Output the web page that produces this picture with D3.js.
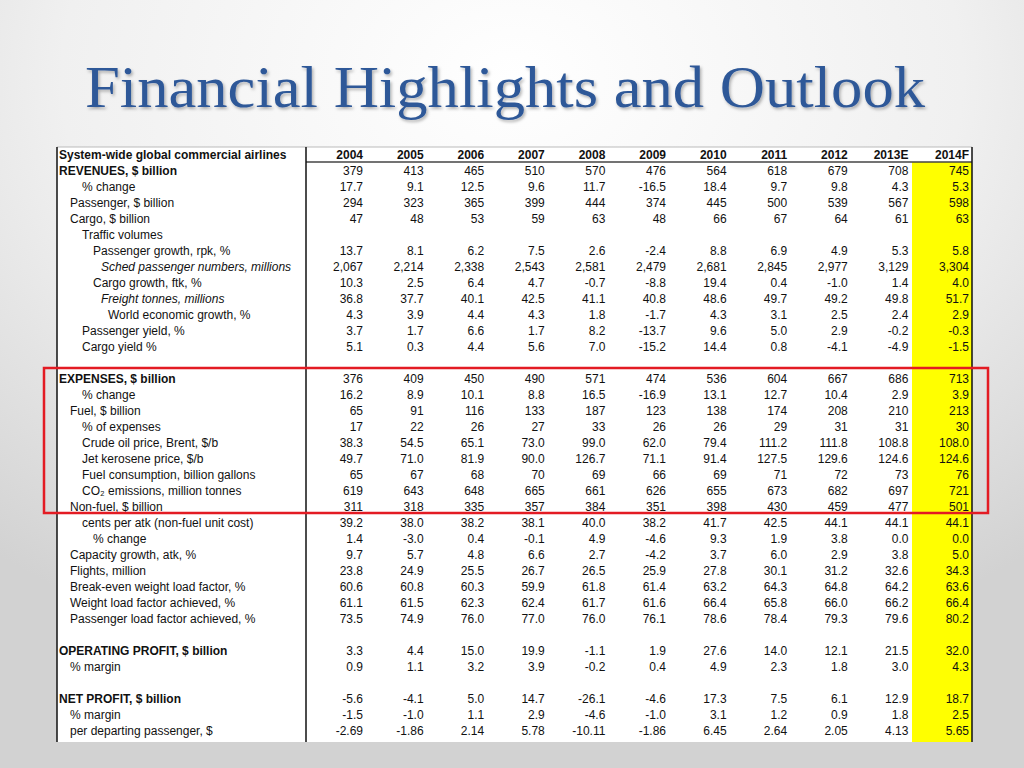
<!DOCTYPE html>
<html>
<head>
<meta charset="utf-8">
<script src="https://cdn.jsdelivr.net/npm/d3@7"></script>
<style>
  body { margin: 0; background: #ddd; }
  svg { display: block; }
</style>
</head>
<body>
<div id="my_viz"></div>
<script>
const years = ['2004', '2005', '2006', '2007', '2008', '2009', '2010', '2011', '2012', '2013E', '2014F'];

const labels = [
    'System-wide global commercial airlines',
    'REVENUES, $ billion', '% change', 'Passenger, $ billion', 'Cargo, $ billion', 'Traffic volumes',
    'Passenger growth, rpk, %', 'Sched passenger numbers, millions', 'Cargo growth, ftk, %',
    'Freight tonnes, millions', 'World economic growth, %', 'Passenger yield, %', 'Cargo yield %',
    '',
    'EXPENSES, $ billion', '% change', 'Fuel, $ billion', '% of expenses', 'Crude oil price, Brent, $/b',
    'Jet kerosene price, $/b', 'Fuel consumption, billion gallons', 'CO\u2082 emissions, million tonnes',
    'Non-fuel, $ billion', 'cents per atk (non-fuel unit cost)', '% change', 'Capacity growth, atk, %',
    'Flights, million', 'Break-even weight load factor, %', 'Weight load factor achieved, %',
    'Passenger load factor achieved, %',
    '',
    'OPERATING PROFIT, $ billion', '% margin',
    '',
    'NET PROFIT, $ billion', '% margin', 'per departing passenger, $'
];

// values per row (null = no numbers on that row)
const values = [
    null,
    [379, 413, 465, 510, 570, 476, 564, 618, 679, 708, 745],
    [17.7, 9.1, 12.5, 9.6, 11.7, -16.5, 18.4, 9.7, 9.8, 4.3, 5.3],
    [294, 323, 365, 399, 444, 374, 445, 500, 539, 567, 598],
    [47, 48, 53, 59, 63, 48, 66, 67, 64, 61, 63],
    null,
    [13.7, 8.1, 6.2, 7.5, 2.6, -2.4, 8.8, 6.9, 4.9, 5.3, 5.8],
    [2067, 2214, 2338, 2543, 2581, 2479, 2681, 2845, 2977, 3129, 3304],
    [10.3, 2.5, 6.4, 4.7, -0.7, -8.8, 19.4, 0.4, -1.0, 1.4, 4.0],
    [36.8, 37.7, 40.1, 42.5, 41.1, 40.8, 48.6, 49.7, 49.2, 49.8, 51.7],
    [4.3, 3.9, 4.4, 4.3, 1.8, -1.7, 4.3, 3.1, 2.5, 2.4, 2.9],
    [3.7, 1.7, 6.6, 1.7, 8.2, -13.7, 9.6, 5.0, 2.9, -0.2, -0.3],
    [5.1, 0.3, 4.4, 5.6, 7.0, -15.2, 14.4, 0.8, -4.1, -4.9, -1.5],
    null,
    [376, 409, 450, 490, 571, 474, 536, 604, 667, 686, 713],
    [16.2, 8.9, 10.1, 8.8, 16.5, -16.9, 13.1, 12.7, 10.4, 2.9, 3.9],
    [65, 91, 116, 133, 187, 123, 138, 174, 208, 210, 213],
    [17, 22, 26, 27, 33, 26, 26, 29, 31, 31, 30],
    [38.3, 54.5, 65.1, 73.0, 99.0, 62.0, 79.4, 111.2, 111.8, 108.8, 108.0],
    [49.7, 71.0, 81.9, 90.0, 126.7, 71.1, 91.4, 127.5, 129.6, 124.6, 124.6],
    [65, 67, 68, 70, 69, 66, 69, 71, 72, 73, 76],
    [619, 643, 648, 665, 661, 626, 655, 673, 682, 697, 721],
    [311, 318, 335, 357, 384, 351, 398, 430, 459, 477, 501],
    [39.2, 38.0, 38.2, 38.1, 40.0, 38.2, 41.7, 42.5, 44.1, 44.1, 44.1],
    [1.4, -3.0, 0.4, -0.1, 4.9, -4.6, 9.3, 1.9, 3.8, 0.0, 0.0],
    [9.7, 5.7, 4.8, 6.6, 2.7, -4.2, 3.7, 6.0, 2.9, 3.8, 5.0],
    [23.8, 24.9, 25.5, 26.7, 26.5, 25.9, 27.8, 30.1, 31.2, 32.6, 34.3],
    [60.6, 60.8, 60.3, 59.9, 61.8, 61.4, 63.2, 64.3, 64.8, 64.2, 63.6],
    [61.1, 61.5, 62.3, 62.4, 61.7, 61.6, 66.4, 65.8, 66.0, 66.2, 66.4],
    [73.5, 74.9, 76.0, 77.0, 76.0, 76.1, 78.6, 78.4, 79.3, 79.6, 80.2],
    null,
    [3.3, 4.4, 15.0, 19.9, -1.1, 1.9, 27.6, 14.0, 12.1, 21.5, 32.0],
    [0.9, 1.1, 3.2, 3.9, -0.2, 0.4, 4.9, 2.3, 1.8, 3.0, 4.3],
    null,
    [-5.6, -4.1, 5.0, 14.7, -26.1, -4.6, 17.3, 7.5, 6.1, 12.9, 18.7],
    [-1.5, -1.0, 1.1, 2.9, -4.6, -1.0, 3.1, 1.2, 0.9, 1.8, 2.5],
    [-2.69, -1.86, 2.14, 5.78, -10.11, -1.86, 6.45, 2.64, 2.05, 4.13, 5.65]
];

// number format per row
const formats = [
    null, ',d', '.1f', 'd', 'd', null, '.1f', ',d', '.1f', '.1f', '.1f', '.1f', '.1f', null,
    'd', '.1f', 'd', 'd', '.1f', '.1f', 'd', 'd', 'd', '.1f', '.1f', '.1f', '.1f', '.1f', '.1f', '.1f', null,
    '.1f', '.1f', null, '.1f', '.1f', '.2f'
];

// label layout (indent level, bold/italic rows)
const indent = [0, 0, 2, 1, 1, 2, 3, 4, 3, 4, 5, 2, 2, 0,
    0, 2, 1, 2, 2, 2, 2, 2, 1, 2, 3, 1, 1, 1, 1, 1, 0,
    0, 1, 0, 0, 1, 1];
const indentX = [59, 70, 82, 93, 101, 108];
const boldRows = [0, 1, 14, 31, 34];
const italicRows = [7, 9];

const width = 1024;
const height = 768;
const table = { left: 57, right: 972, top: 147, bottom: 742, divider: 306 };

const locale = d3.formatLocale({ decimal: '.', thousands: ',', grouping: [3], currency: ['$', ''], minus: '-' });

const svg = d3.select('#my_viz')
    .append('svg')
    .attr('width', width)
    .attr('height', height)
    .attr('viewBox', [0, 0, width, height]);

const defs = svg.append('defs');
const bg = defs.append('radialGradient')
    .attr('id', 'bg').attr('cx', '50%').attr('cy', '10%').attr('r', '80%');
bg.append('stop').attr('offset', '0%').attr('stop-color', '#ffffff');
bg.append('stop').attr('offset', '55%').attr('stop-color', '#f0f0f0');
bg.append('stop').attr('offset', '100%').attr('stop-color', '#d2d2d2');

const shadow = defs.append('filter').attr('id', 'shadow')
    .attr('x', '-5%').attr('y', '-20%').attr('width', '110%').attr('height', '150%');
shadow.append('feDropShadow')
    .attr('dx', 1.5).attr('dy', 2).attr('stdDeviation', 1.5)
    .attr('flood-color', '#000').attr('flood-opacity', 0.3);

svg.append('rect').attr('width', width).attr('height', height).attr('fill', 'url(#bg)');

svg.append('text')
    .attr('x', 85)
    .attr('y', 107)
    .attr('textLength', 840)
    .attr('lengthAdjust', 'spacingAndGlyphs')
    .attr('font-family', '"Liberation Serif", serif')
    .attr('font-size', 60)
    .attr('fill', '#2f5898')
    .attr('filter', 'url(#shadow)')
    .text('Financial Highlights and Outlook');

const x = d3.scalePoint()
    .domain(years)
    .range([363, 969]);

const y = d3.scaleBand()
    .domain(d3.range(labels.length))
    .range([table.top, table.top + labels.length * 16]);

// table body
svg.append('rect')
    .attr('x', table.left).attr('y', table.top)
    .attr('width', table.right - table.left).attr('height', table.bottom - table.top)
    .attr('fill', '#fff');

// highlighted forecast column
svg.append('rect')
    .attr('x', 912).attr('y', 162)
    .attr('width', table.right - 912).attr('height', table.bottom - 162)
    .attr('fill', '#ffff00');

svg.append('line')
    .attr('x1', table.left).attr('x2', table.right)
    .attr('y1', table.top).attr('y2', table.top)
    .attr('stroke', '#bbb');
svg.append('line')
    .attr('x1', table.divider).attr('x2', table.right)
    .attr('y1', 162).attr('y2', 162)
    .attr('stroke', '#444').attr('stroke-width', 1.5);
[table.left, table.divider, table.right].forEach(xx => {
    svg.append('line')
        .attr('x1', xx).attr('x2', xx)
        .attr('y1', table.top).attr('y2', table.bottom)
        .attr('stroke', '#111').attr('stroke-width', 1.5);
});

const rows = svg.append('g')
    .attr('font-family', '"Liberation Sans", Arial, sans-serif')
    .attr('font-size', 12)
    .attr('fill', '#111')
    .selectAll('g')
    .data(labels)
    .join('g')
    .attr('transform', (d, i) => `translate(0,${y(i) + y.bandwidth() / 2})`);

rows.append('text')
    .attr('x', (d, i) => indentX[indent[i]])
    .attr('dy', '0.35em')
    .attr('font-weight', (d, i) => boldRows.includes(i) ? 'bold' : null)
    .attr('font-style', (d, i) => italicRows.includes(i) ? 'italic' : null)
    .text(d => d);

rows.selectAll('text.v')
    .data((d, i) => values[i] ? values[i].map(v => ({ v, f: formats[i] })) : [])
    .join('text')
    .attr('class', 'v')
    .attr('x', (d, j) => x(years[j]))
    .attr('dy', '0.35em')
    .attr('text-anchor', 'end')
    .text(d => locale.format(d.f)(d.v));

// year header
svg.append('g')
    .attr('font-family', '"Liberation Sans", Arial, sans-serif')
    .attr('font-size', 12)
    .attr('font-weight', 'bold')
    .attr('fill', '#111')
    .selectAll('text')
    .data(years)
    .join('text')
    .attr('x', d => x(d))
    .attr('y', y(0) + y.bandwidth() / 2)
    .attr('dy', '0.35em')
    .attr('text-anchor', 'end')
    .text(d => d);

// red box around the expenses block
svg.append('rect')
    .attr('x', 44).attr('y', 368)
    .attr('width', 944).attr('height', 145)
    .attr('fill', 'none')
    .attr('stroke', '#e31b23')
    .attr('stroke-width', 2.5);
</script>
</body>
</html>
